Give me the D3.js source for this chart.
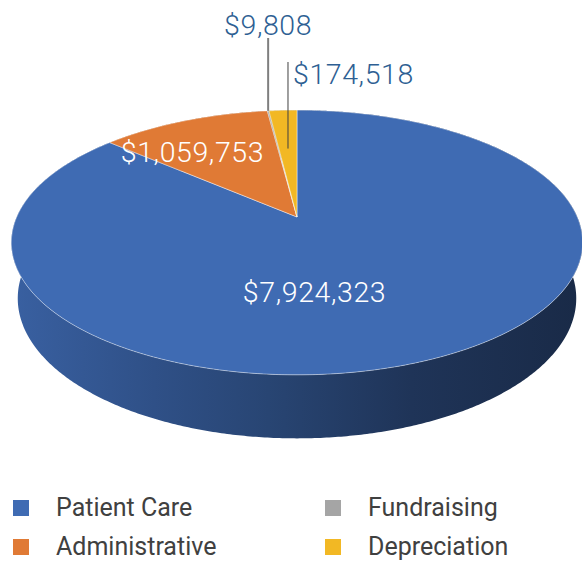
<!DOCTYPE html>
<html>
<head>
<meta charset="utf-8">
<script src="https://cdn.jsdelivr.net/npm/d3@7"></script>
<style>
  body { margin: 0; background: #fff; }
  text { font-family: Roboto, "Open Sans", sans-serif; }
</style>
</head>
<body>
<svg id="chart" width="582" height="561"></svg>
<script>
// data
const categories = ["Patient Care", "Administrative", "Fundraising", "Depreciation"];
const values = [7924323, 1059753, 9808, 174518];
const labels = ["$7,924,323", "$1,059,753", "$9,808", "$174,518"];
const colors = ["#3f6bb3", "#e07a35", "#a5a5a5", "#f2b824"];

const width = 582, height = 561;
const svg = d3.select('#chart');

// simple perspective projection of a unit disc tilted toward the viewer
const cx = 297, cy = 217;
const focal = 1295, camDist = 4.62;
const phi = Math.asin(0.4546);
const depth = 0.225;

function proj(theta, r, Y) {
    let X = r * Math.sin(theta), Z = r * Math.cos(theta);
    let yv = Z * Math.sin(phi) + Y * Math.cos(phi);
    let zv = Z * Math.cos(phi) - Y * Math.sin(phi);
    let k = focal / (camDist + zv);
    return [cx + X * k, cy - yv * k];
}

let color = d3.scaleOrdinal().domain(categories).range(colors);

let pie = d3.pie().sort(null).value(d => d.value);
let arcs = pie(categories.map((c, i) => ({ name: c, value: values[i], label: labels[i] })));

// side wall gradients, lighter on the left, darker on the right
let defs = svg.append('defs');
let shadeStops = [[0, 0.3], [0.25, 0.8], [0.45, 1.25], [0.7, 2.0], [1, 2.6]];
arcs.forEach((a, i) => {
    let g = defs.append('linearGradient')
        .attr('id', 'side' + i)
        .attr('gradientUnits', 'userSpaceOnUse')
        .attr('x1', 12).attr('x2', 582)
        .attr('y1', 0).attr('y2', 0);
    shadeStops.forEach(s => {
        g.append('stop')
            .attr('offset', s[0])
            .attr('stop-color', d3.color(color(a.data.name)).darker(s[1]));
    });
});

const step = Math.PI / 360;
function edge(a, Y, reverse) {
    let pts = [];
    for (let t = a.startAngle; t < a.endAngle; t += step) pts.push(proj(t, 1, Y));
    pts.push(proj(a.endAngle, 1, Y));
    return reverse ? pts.reverse() : pts;
}

// walls drawn first, top face covers the back parts
svg.append('g')
    .selectAll('path')
    .data(arcs)
    .enter()
    .append('path')
    .attr('d', a => 'M' + edge(a, 0, false).concat(edge(a, -depth, true)).join('L') + 'Z')
    .attr('fill', (a, i) => 'url(#side' + i + ')');

// top face
svg.append('g')
    .selectAll('path')
    .data(arcs)
    .enter()
    .append('path')
    .attr('d', a => 'M' + [proj(0, 0, 0)].concat(edge(a, 0, false)).join('L') + 'Z')
    .attr('fill', d => color(d.data.name))
    .attr('stroke', 'rgba(255,255,255,0.55)')
    .attr('stroke-width', 0.8)
    .attr('stroke-linejoin', 'round');

// inside labels
let mid = a => (a.startAngle + a.endAngle) / 2;
let inside = [
    { i: 0, r: 0.55, dx: -53, dy: 14 },
    { i: 1, r: 0.72, dx: -20, dy: 17 }
];
svg.append('g')
    .selectAll('text')
    .data(inside)
    .enter()
    .append('text')
    .attr('x', d => proj(mid(arcs[d.i]), d.r, 0)[0] + d.dx)
    .attr('y', d => proj(mid(arcs[d.i]), d.r, 0)[1] + d.dy)
    .attr('text-anchor', 'middle')
    .attr('fill', '#fff')
    .style('font-size', '28.5px')
    .style('font-weight', 300)
    .style('letter-spacing', '0.6px')
    .text(d => arcs[d.i].data.label);

// outside labels with leader lines
let outside = [
    { i: 2, r: 1.0, top: 38, stroke: '#7f7f7f', sw: 2, anchor: 'middle', tx: 0, ty: 35 },
    { i: 3, r: 0.6, top: 62, stroke: '#404040', sw: 1, anchor: 'start', tx: 5, ty: 84 }
];
let og = svg.append('g');
outside.forEach(d => {
    let p = proj(mid(arcs[d.i]), d.r, 0);
    og.append('line')
        .attr('x1', p[0]).attr('x2', p[0])
        .attr('y1', p[1]).attr('y2', d.top)
        .attr('stroke', d.stroke)
        .attr('stroke-width', d.sw);
    og.append('text')
        .attr('x', p[0] + d.tx)
        .attr('y', d.ty)
        .attr('text-anchor', d.anchor)
        .attr('fill', '#2e5f93')
        .style('font-size', '28.5px')
        .style('font-weight', 300)
        .style('letter-spacing', '0.6px')
        .text(arcs[d.i].data.label);
});

// legend, two columns
let legend = svg.append('g')
    .selectAll('g')
    .data(categories)
    .enter()
    .append('g')
    .attr('transform', (d, i) => 'translate(' + (13 + Math.floor(i / 2) * 312) + ',' + (500 + (i % 2) * 39) + ')');

legend.append('rect')
    .attr('width', 16)
    .attr('height', 16)
    .attr('fill', d => color(d));

legend.append('text')
    .attr('x', 43)
    .attr('y', 16)
    .attr('fill', '#404040')
    .style('font-size', '25px')
    .text(d => d);
</script>
</body>
</html>
